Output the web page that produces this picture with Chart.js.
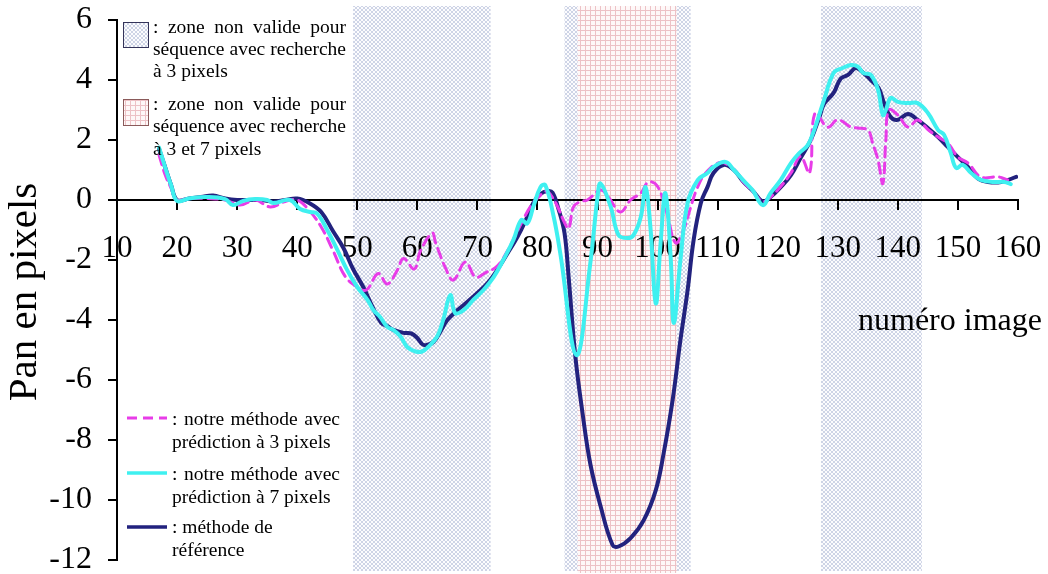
<!DOCTYPE html>
<html>
<head>
<meta charset="utf-8">
<script src="https://cdn.jsdelivr.net/npm/chart.js@4.4.1/dist/chart.umd.min.js"></script>
<style>
  body { margin: 0; background: #fff; }
  #wrap { width: 1048px; height: 574px; }
</style>
</head>
<body>
<div id="wrap"><canvas id="chart"></canvas></div>
<script>
// reference method (dark blue)
const refX = [17, 18, 19, 20, 22, 24, 26, 28, 30, 32, 34, 36, 38, 40, 42, 44, 46, 47.7, 49.3, 51, 52.5, 54, 55, 56, 57.7, 59, 60, 61, 62.7, 64, 65, 66.7, 68.3, 70, 71.7, 73.3, 75, 76.7, 78.3, 79.3, 80.5, 81.7, 82.5, 83.5, 84.5, 85.2, 86.3, 87.5, 88.8, 90.5, 92.5, 93.5, 95.5, 97.7, 99.7, 101, 102.5, 103.8, 105, 106, 107.2, 108.3, 109.3, 111, 112.7, 114.3, 116, 117.5, 118.8, 120.5, 122.2, 123.8, 125.5, 127, 127.7, 129.3, 130.5, 131.7, 133, 134.3, 135.5, 136.8, 137.7, 138.8, 140, 141.7, 143.3, 145, 146.7, 148.3, 150, 151.7, 153.3, 155, 157.2, 159.7];
const refY = [1.7, 1.1, 0.5, 0.0, 0.05, 0.1, 0.15, 0.05, 0.0, 0.0, 0.0, -0.05, 0.0, 0.05, -0.1, -0.4, -1.05, -1.6, -2.3, -2.9, -3.55, -4.1, -4.2, -4.33, -4.43, -4.45, -4.6, -4.83, -4.73, -4.33, -4.0, -3.67, -3.4, -3.1, -2.77, -2.33, -1.78, -1.22, -0.56, -0.1, 0.2, 0.3, 0.25, -0.3, -1.1, -2.6, -5.2, -7.1, -8.8, -10.2, -11.5, -11.55, -11.27, -10.67, -9.67, -8.45, -6.67, -4.67, -3.0, -1.33, -0.1, 0.43, 0.9, 1.17, 1.0, 0.6, 0.27, -0.05, 0.1, 0.43, 0.83, 1.4, 2.0, 2.8, 3.2, 3.57, 4.05, 4.17, 4.4, 4.23, 4.0, 3.73, 3.23, 2.77, 2.67, 2.87, 2.67, 2.4, 2.1, 1.77, 1.43, 1.1, 0.72, 0.6, 0.6, 0.77];

// our method, prediction 7 pixels (cyan)
const p7X = [17, 18, 19, 20, 22, 25, 28, 29.3, 31, 33, 35, 36, 38.8, 40.5, 42.2, 43.3, 45, 46.7, 48.3, 50, 51.7, 52.7, 53.8, 55, 56, 57.2, 58.3, 59.7, 60.8, 61.8, 63.3, 64.3, 65.5, 66.3, 67.7, 69.3, 71, 72.7, 74.3, 76, 77.3, 78.3, 79.3, 80.5, 81.3, 82.7, 83.8, 86.5, 88.8, 90, 90.5, 92.2, 93.5, 95, 96, 97.2, 98, 98.8, 99.7, 100.5, 101.3, 102.2, 102.7, 103.8, 105, 106.7, 108.3, 109.3, 111.3, 112.7, 114.2, 115.8, 117.5, 118.8, 120.5, 122.2, 123.5, 125, 126, 127.7, 129.3, 130.8, 132.2, 133.3, 134.3, 135.5, 136.7, 137.5, 138, 138.8, 140, 141.7, 143.3, 145, 146.7, 147.7, 148.8, 149.7, 150.8, 152.2, 153.8, 156, 157.7, 158.8];
const p7Y = [1.75, 1.1, 0.5, -0.03, 0.05, 0.1, 0.03, -0.17, -0.03, 0.03, 0.0, -0.1, 0.0, -0.3, -0.4, -0.45, -1.0, -1.67, -2.33, -2.9, -3.33, -3.67, -3.9, -4.23, -4.33, -4.55, -4.9, -5.05, -5.05, -4.9, -4.55, -4.0, -3.17, -3.77, -3.67, -3.33, -3.0, -2.57, -2.0, -1.33, -0.67, -0.78, -0.23, 0.43, 0.5, -0.56, -1.78, -5.17, -2.1, 0.1, 0.55, -0.23, -1.17, -1.27, -1.17, -0.57, 0.43, -0.9, -3.45, -1.43, 0.23, -2.0, -4.1, -2.0, -0.1, 0.67, 0.9, 1.1, 1.27, 1.0, 0.67, 0.33, -0.17, 0.23, 0.67, 1.23, 1.55, 1.83, 2.3, 3.33, 4.23, 4.4, 4.5, 4.45, 4.23, 4.17, 3.67, 2.83, 3.0, 3.4, 3.27, 3.23, 3.23, 2.9, 2.33, 2.17, 1.57, 1.07, 1.17, 0.9, 0.67, 0.6, 0.6, 0.53];

// our method, prediction 3 pixels (magenta dashed)
const p3X = [17, 18, 19, 20, 22, 25, 28, 30.5, 33, 35.5, 38, 40, 42, 44, 46, 48, 50, 51.5, 53.5, 55, 56.7, 57.7, 59.5, 60.5, 62.5, 63, 64.7, 66, 68, 69.7, 71.3, 73.3, 75, 77, 78.8, 80.2, 81.5, 82.2, 83.3, 84.5, 85.2, 86, 87.2, 88.3, 90.5, 91.8, 93.8, 95.5, 97.2, 98.5, 100, 101.5, 103, 104.3, 105.5, 106.5, 108, 110.5, 112.7, 114.3, 116, 117.5, 118.8, 120.5, 122.2, 123.8, 125.3, 126.2, 128.3, 130, 132.2, 133.3, 135, 135.8, 136.7, 137.5, 138, 138.5, 140, 141.7, 143.3, 145, 146.7, 148.3, 150, 151.7, 153.8, 156.7, 158.3];
const p3Y = [1.5, 0.85, 0.4, 0.0, 0.05, 0.05, 0.0, -0.17, 0.0, -0.23, -0.05, 0.0, -0.35, -0.9, -1.7, -2.55, -2.9, -3.0, -2.45, -2.8, -2.33, -1.95, -2.3, -1.7, -1.1, -1.4, -2.27, -2.67, -2.07, -2.57, -2.43, -2.2, -1.7, -0.9, -0.23, 0.1, 0.3, 0.17, -0.2, -0.75, -0.95, -0.23, -0.05, 0.0, 0.33, 0.1, -0.4, 0.0, 0.23, 0.6, 0.45, -0.4, -1.43, -1.0, -0.25, 0.35, 0.9, 1.25, 1.0, 0.6, 0.25, -0.05, 0.1, 0.45, 0.9, 1.45, 0.9, 2.9, 2.43, 2.67, 2.43, 2.4, 2.33, 1.9, 1.33, 0.55, 2.0, 3.0, 2.83, 2.43, 2.67, 2.35, 2.1, 1.9, 1.43, 1.23, 0.77, 0.77, 0.67];

// invalid zones (image numbers)
const zones3px = [[49.3, 72.2], [84.5, 105.5], [127.2, 144]];
const zones3and7px = [[86.7, 103.2]];

const yTicks = [-12, -10, -8, -6, -4, -2, 0, 2, 4, 6];
const xTicks = [10, 20, 30, 40, 50, 60, 70, 80, 90, 100, 110, 120, 130, 140, 150, 160];

const SERIF = "'Liberation Serif', 'Times New Roman', serif";
const NAVY = '#22227e';
const CYAN = '#3ff0f0';
const MAGENTA = '#e83ce8';

function points(xs, ys) {
  return xs.map((x, i) => ({ x: x, y: ys[i] }));
}

let hatch = null, grid = null;
function makePatterns(ctx) {
  const c1 = document.createElement('canvas');
  c1.width = 4; c1.height = 4;
  const g1 = c1.getContext('2d');
  g1.fillStyle = '#fcfcfe';
  g1.fillRect(0, 0, 4, 4);
  g1.strokeStyle = 'rgba(160,172,205,0.5)';
  g1.lineWidth = 1;
  g1.beginPath();
  g1.moveTo(0, 0); g1.lineTo(4, 4);
  g1.moveTo(4, 0); g1.lineTo(0, 4);
  g1.stroke();
  hatch = ctx.createPattern(c1, 'repeat');

  const c2 = document.createElement('canvas');
  c2.width = 5; c2.height = 5;
  const g2 = c2.getContext('2d');
  g2.fillStyle = '#fef8f8';
  g2.fillRect(0, 0, 5, 5);
  g2.fillStyle = '#edc2c6';
  g2.fillRect(0, 0, 5, 1);
  g2.fillRect(0, 0, 1, 5);
  grid = ctx.createPattern(c2, 'repeat');
}

function justify(ctx, text, x, y, width) {
  const words = text.split(' ');
  const total = words.reduce((s, w) => s + ctx.measureText(w).width, 0);
  const gap = (width - total) / (words.length - 1);
  let cx = x;
  words.forEach(w => {
    ctx.fillText(w, cx, y);
    cx += ctx.measureText(w).width + gap;
  });
}

const zonesPlugin = {
  id: 'zones',
  beforeDraw(chart) {
    const ctx = chart.ctx;
    if (!hatch) makePatterns(ctx);
    const xs = chart.scales.x;
    const area = chart.chartArea;
    const top = area.top - 14, bottom = area.bottom + 11;
    ctx.save();
    ctx.fillStyle = hatch;
    zones3px.forEach(z => {
      const a = xs.getPixelForValue(z[0]), b = xs.getPixelForValue(z[1]);
      ctx.fillRect(a, top, b - a, bottom - top);
    });
    ctx.fillStyle = grid;
    zones3and7px.forEach(z => {
      const a = xs.getPixelForValue(z[0]), b = xs.getPixelForValue(z[1]);
      ctx.fillRect(a, top, b - a, bottom - top + 2);
    });
    ctx.restore();
  },
  afterDraw(chart) {
    const ctx = chart.ctx;
    ctx.save();
    ctx.fillStyle = '#000';

    // axis titles
    ctx.font = '32px ' + SERIF;
    ctx.textBaseline = 'alphabetic';
    ctx.textAlign = 'left';
    ctx.fillText('numéro image', 858, 330);
    ctx.save();
    ctx.translate(36, 292);
    ctx.rotate(-Math.PI / 2);
    ctx.font = '41px ' + SERIF;
    ctx.textAlign = 'center';
    ctx.fillText('Pan en pixels', 0, 0);
    ctx.restore();

    // zone legend
    ctx.fillStyle = hatch;
    ctx.fillRect(123, 22, 25, 25);
    ctx.strokeStyle = '#34345a';
    ctx.lineWidth = 1;
    ctx.strokeRect(123.5, 22.5, 25, 25);
    ctx.fillStyle = grid;
    ctx.fillRect(123, 99, 25, 26);
    ctx.strokeStyle = '#8a5a5a';
    ctx.strokeRect(123.5, 99.5, 25, 26);

    ctx.fillStyle = '#000';
    ctx.font = '19.5px ' + SERIF;
    justify(ctx, ': zone non valide pour', 153, 33, 193);
    justify(ctx, 'séquence avec recherche', 153, 55, 193);
    ctx.fillText('à 3 pixels', 153, 77);
    justify(ctx, ': zone non valide pour', 153, 110, 193);
    justify(ctx, 'séquence avec recherche', 153, 132, 193);
    ctx.fillText('à 3 et 7 pixels', 153, 155);

    // series legend
    ctx.lineWidth = 3;
    ctx.strokeStyle = MAGENTA;
    ctx.setLineDash([10, 6]);
    ctx.beginPath(); ctx.moveTo(127, 418); ctx.lineTo(167, 418); ctx.stroke();
    ctx.setLineDash([]);
    ctx.lineWidth = 3.5;
    ctx.strokeStyle = CYAN;
    ctx.beginPath(); ctx.moveTo(127, 473); ctx.lineTo(167, 473); ctx.stroke();
    ctx.strokeStyle = NAVY;
    ctx.beginPath(); ctx.moveTo(127, 527); ctx.lineTo(167, 527); ctx.stroke();

    justify(ctx, ': notre méthode avec', 172, 425, 168);
    ctx.fillText('prédiction à 3 pixels', 172, 448);
    justify(ctx, ': notre méthode avec', 172, 480, 168);
    ctx.fillText('prédiction à 7 pixels', 172, 503);
    ctx.fillText(': méthode de', 172, 533);
    ctx.fillText('référence', 172, 556);
    ctx.restore();
  }
};

new Chart(document.getElementById('chart'), {
  type: 'line',
  data: {
    datasets: [
      { label: 'prédiction à 7 pixels', data: points(p7X, p7Y), borderColor: CYAN, borderWidth: 4, order: 1 },
      { label: 'prédiction à 3 pixels', data: points(p3X, p3Y), borderColor: MAGENTA, borderWidth: 3, borderDash: [10, 6], order: 2 },
      { label: 'méthode de référence', data: points(refX, refY), borderColor: NAVY, borderWidth: 4, order: 3 }
    ]
  },
  options: {
    responsive: true,
    maintainAspectRatio: false,
    animation: false,
    layout: { padding: { left: 0, top: 20, right: 30, bottom: 14 } },
    elements: {
      point: { radius: 0 },
      line: { tension: 0.4, fill: false, borderCapStyle: 'round', borderJoinStyle: 'round' }
    },
    plugins: { legend: { display: false }, tooltip: { enabled: false } },
    scales: {
      x: {
        type: 'linear',
        min: 10,
        max: 160,
        position: { y: 0 },
        afterBuildTicks(scale) { scale.ticks = xTicks.map(v => ({ value: v })); },
        afterFit(scale) { scale.paddingLeft = 0; scale.paddingRight = 0; },
        grid: { drawOnChartArea: false, color: '#000', lineWidth: 2, tickLength: 9 },
        border: { display: true, color: '#000', width: 2 },
        ticks: { color: '#000', padding: 21, maxRotation: 0, autoSkip: false, font: { family: SERIF, size: 31 } }
      },
      y: {
        type: 'linear',
        min: -12,
        max: 6,
        afterBuildTicks(scale) { scale.ticks = yTicks.map(v => ({ value: v })); },
        afterFit(scale) { scale.width = 117; scale.paddingTop = 0; scale.paddingBottom = 0; },
        grid: { drawOnChartArea: false, color: '#000', lineWidth: 2, tickLength: 9 },
        border: { display: true, color: '#000', width: 2 },
        ticks: { color: '#000', padding: 16, font: { family: SERIF, size: 32 } }
      }
    }
  },
  plugins: [zonesPlugin]
});
</script>
</body>
</html>
